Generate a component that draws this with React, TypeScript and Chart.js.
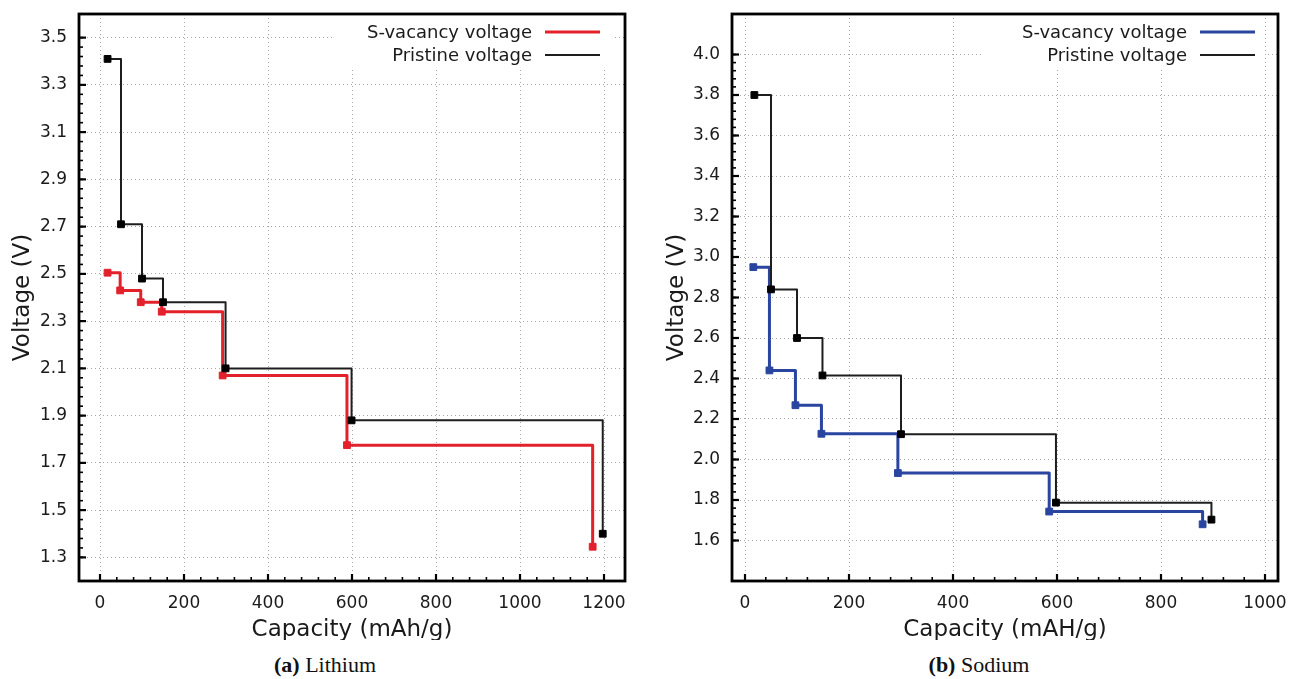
import React, { useEffect, useRef } from "react";
import { Chart, registerables } from "chart.js";

Chart.register(...registerables);

// ---- data ----
const liPristineCapacity = [18, 50, 100, 150, 299, 599, 1197];
const liPristineVoltage = [3.41, 2.71, 2.48, 2.38, 2.1, 1.88, 1.4];
const liVacancyCapacity = [18, 48, 97, 147, 292, 588, 1173];
const liVacancyVoltage = [2.505, 2.43, 2.38, 2.34, 2.07, 1.775, 1.345];

const naPristineCapacity = [18, 50, 100, 149, 300, 598, 897];
const naPristineVoltage = [3.8, 2.84, 2.6, 2.415, 2.125, 1.787, 1.703];
const naVacancyCapacity = [16, 47, 97, 147, 294, 585, 880];
const naVacancyVoltage = [2.95, 2.44, 2.268, 2.127, 1.933, 1.743, 1.68];

const liXTicks = [0, 200, 400, 600, 800, 1000, 1200];
const liYTicks = [1.3, 1.5, 1.7, 1.9, 2.1, 2.3, 2.5, 2.7, 2.9, 3.1, 3.3, 3.5];
const naXTicks = [0, 200, 400, 600, 800, 1000];
const naYTicks = [1.6, 1.8, 2.0, 2.2, 2.4, 2.6, 2.8, 3.0, 3.2, 3.4, 3.6, 3.8, 4.0];

const legendLabels = ["S-vacancy voltage", "Pristine voltage"];

const RED = "#e3212b";
const BLUE = "#2a45a0";
const BLACK = "#1e1e1e";
const TEXT = "#1a1a1a";
const FONT = "'DejaVu Sans', sans-serif";

type Panel = {
  vacCap: number[];
  vacVolt: number[];
  priCap: number[];
  priVolt: number[];
  xTicks: number[];
  yTicks: number[];
  xMin: number;
  xMax: number;
  yMin: number;
  yMax: number;
  xMinor: number;
  yMinor: number;
  vacColor: string;
  xTitle: string;
  padLeft: number;
  padRight: number;
  padTop: number;
  bottom: number;
  yTitleX: number;
  legend: { textRight: number; lineStart: number; lineEnd: number; boxLeft: number; boxRight: number; boxBottom: number };
};

const W = 645;
const H = 640;

function makePlugin(p: Panel) {
  return {
    id: "gnuplotDecor",
    beforeDatasetsDraw(chart: any) {
      const ctx = chart.ctx;
      const a = chart.chartArea;
      ctx.save();
      ctx.fillStyle = "#ffffff";
      ctx.fillRect(p.legend.boxLeft, a.top, p.legend.boxRight - p.legend.boxLeft, p.legend.boxBottom - a.top);
      ctx.restore();
    },
    afterDraw(chart: any) {
      const ctx = chart.ctx;
      const a = chart.chartArea;
      const xs = chart.scales.x;
      const ys = chart.scales.y;
      ctx.save();
      // minor ticks
      ctx.strokeStyle = "#000";
      ctx.lineWidth = 1.6;
      const x0 = p.xTicks[0];
      const x1 = p.xTicks[p.xTicks.length - 1];
      const nx = Math.round((x1 - x0) / p.xMinor);
      for (let i = 0; i <= nx; i++) {
        const v = x0 + i * p.xMinor;
        const px = xs.getPixelForValue(v);
        ctx.beginPath();
        ctx.moveTo(px, a.bottom);
        ctx.lineTo(px, a.bottom - 4);
        ctx.stroke();
      }
      const y0 = p.yTicks[0];
      const y1 = p.yTicks[p.yTicks.length - 1];
      const ny = Math.round((y1 - y0) / p.yMinor);
      for (let i = 0; i <= ny; i++) {
        const v = y0 + i * p.yMinor;
        const py = ys.getPixelForValue(v);
        ctx.beginPath();
        ctx.moveTo(a.left, py);
        ctx.lineTo(a.left + 4, py);
        ctx.stroke();
      }
      // major ticks
      ctx.lineWidth = 2.2;
      p.xTicks.forEach((v) => {
        const px = xs.getPixelForValue(v);
        ctx.beginPath();
        ctx.moveTo(px, a.bottom);
        ctx.lineTo(px, a.bottom - 7);
        ctx.stroke();
      });
      p.yTicks.forEach((v) => {
        const py = ys.getPixelForValue(v);
        ctx.beginPath();
        ctx.moveTo(a.left, py);
        ctx.lineTo(a.left + 7, py);
        ctx.stroke();
      });
      // frame
      ctx.lineWidth = 2.8;
      ctx.strokeStyle = "#000";
      ctx.strokeRect(a.left, a.top, a.right - a.left, a.bottom - a.top);

      // legend
      ctx.font = `18px ${FONT}`;
      ctx.fillStyle = TEXT;
      ctx.textAlign = "right";
      ctx.textBaseline = "middle";
      const rows = [33, 56];
      const colors = [p.vacColor, BLACK];
      const widths = [3, 2];
      legendLabels.forEach((lab, i) => {
        ctx.fillText(lab, p.legend.textRight, rows[i]);
        ctx.strokeStyle = colors[i];
        ctx.lineWidth = widths[i];
        ctx.beginPath();
        ctx.moveTo(p.legend.lineStart, rows[i] - 1);
        ctx.lineTo(p.legend.lineEnd, rows[i] - 1);
        ctx.stroke();
      });

      // axis titles
      ctx.font = `23px ${FONT}`;
      ctx.fillStyle = TEXT;
      ctx.textAlign = "center";
      ctx.textBaseline = "middle";
      ctx.fillText(p.xTitle, (a.left + a.right) / 2, 630);
      ctx.save();
      ctx.translate(p.yTitleX, (a.top + a.bottom) / 2);
      ctx.rotate(-Math.PI / 2);
      ctx.fillText("Voltage (V)", 0, 0);
      ctx.restore();
      ctx.restore();
    },
  };
}

function buildConfig(p: Panel): any {
  const toPts = (xs: number[], ys: number[]) => xs.map((x, i) => ({ x, y: ys[i] }));
  return {
    type: "line",
    data: {
      datasets: [
        {
          label: legendLabels[1],
          data: toPts(p.priCap, p.priVolt),
          borderColor: BLACK,
          borderWidth: 2,
          stepped: "before",
          borderJoinStyle: "round",
          pointStyle: "rect",
          pointRadius: 4.8,
          pointBorderWidth: 1,
          pointBackgroundColor: "#000",
          pointBorderColor: "#000",
          fill: false,
        },
        {
          label: legendLabels[0],
          data: toPts(p.vacCap, p.vacVolt),
          borderColor: p.vacColor,
          borderWidth: 3,
          stepped: "before",
          borderJoinStyle: "round",
          pointStyle: "rect",
          pointRadius: 4.8,
          pointBorderWidth: 1,
          pointBackgroundColor: p.vacColor,
          pointBorderColor: p.vacColor,
          fill: false,
        },
      ],
    },
    options: {
      animation: false,
      responsive: false,
      devicePixelRatio: 1,
      events: [],
      layout: { padding: { left: 0, right: p.padRight, top: p.padTop, bottom: 0 } },
      plugins: { legend: { display: false }, tooltip: { enabled: false }, title: { display: false } },
      scales: {
        x: {
          type: "linear",
          min: p.xMin,
          max: p.xMax,
          afterBuildTicks: (s: any) => {
            s.ticks = p.xTicks.map((v) => ({ value: v }));
          },
          afterFit: (s: any) => {
            s.height = H - p.bottom;
            s.paddingLeft = 0;
            s.paddingRight = 0;
          },
          grid: { color: "rgba(150,150,150,0.85)", lineWidth: 1, drawTicks: false },
          border: { display: false, dash: [1, 3] },
          ticks: {
            padding: 12,
            color: TEXT,
            font: { family: FONT, size: 17 },
            maxRotation: 0,
            autoSkip: false,
            callback: (v: any) => String(v),
          },
        },
        y: {
          type: "linear",
          min: p.yMin,
          max: p.yMax,
          afterBuildTicks: (s: any) => {
            s.ticks = p.yTicks.map((v) => ({ value: v }));
          },
          afterFit: (s: any) => {
            s.width = p.padLeft;
            s.paddingTop = 0;
            s.paddingBottom = 0;
          },
          grid: { color: "rgba(150,150,150,0.85)", lineWidth: 1, drawTicks: false },
          border: { display: false, dash: [1, 3] },
          ticks: {
            padding: 12,
            color: TEXT,
            font: { family: FONT, size: 17 },
            autoSkip: false,
            callback: (v: any) => Number(v).toFixed(1),
          },
        },
      },
    },
    plugins: [makePlugin(p)],
  };
}

const leftPanel: Panel = {
  vacCap: liVacancyCapacity,
  vacVolt: liVacancyVoltage,
  priCap: liPristineCapacity,
  priVolt: liPristineVoltage,
  xTicks: liXTicks,
  yTicks: liYTicks,
  xMin: -50,
  xMax: 1250,
  yMin: 1.2,
  yMax: 3.6,
  xMinor: 40,
  yMinor: 0.04,
  vacColor: RED,
  xTitle: "Capacity (mAh/g)",
  padLeft: 79,
  padRight: 20,
  padTop: 14,
  bottom: 581,
  yTitleX: 23,
  legend: { textRight: 532, lineStart: 545, lineEnd: 600, boxLeft: 332, boxRight: 612, boxBottom: 67 },
};

const rightPanel: Panel = {
  vacCap: naVacancyCapacity,
  vacVolt: naVacancyVoltage,
  priCap: naPristineCapacity,
  priVolt: naPristineVoltage,
  xTicks: naXTicks,
  yTicks: naYTicks,
  xMin: -25,
  xMax: 1025,
  yMin: 1.4,
  yMax: 4.2,
  xMinor: 40,
  yMinor: 0.04,
  vacColor: BLUE,
  xTitle: "Capacity (mAH/g)",
  padLeft: 87,
  padRight: 12,
  padTop: 14,
  bottom: 581,
  yTitleX: 32,
  legend: { textRight: 542, lineStart: 555, lineEnd: 610, boxLeft: 339, boxRight: 620, boxBottom: 67 },
};

function PanelChart({ panel, left }: { panel: Panel; left: number }) {
  const ref = useRef<HTMLCanvasElement | null>(null);
  useEffect(() => {
    if (!ref.current) return;
    const chart = new Chart(ref.current, buildConfig(panel));
    return () => chart.destroy();
  }, [panel]);
  return (
    <canvas
      ref={ref}
      width={W}
      height={H}
      style={{ position: "absolute", left, top: 0, width: W, height: H }}
    />
  );
}

function Caption({ center, tag, name }: { center: number; tag: string; name: string }) {
  return (
    <div
      style={{
        position: "absolute",
        left: center - 150,
        width: 300,
        top: 652,
        textAlign: "center",
        fontFamily: "'Liberation Serif', serif",
        fontSize: 22,
        lineHeight: "26px",
        color: "#111",
      }}
    >
      <b>{tag}</b> {name}
    </div>
  );
}

export default function App() {
  return (
    <div style={{ position: "absolute", left: 0, top: 0, width: 1290, height: 679, background: "#fff", overflow: "hidden" }}>
      <PanelChart panel={leftPanel} left={0} />
      <PanelChart panel={rightPanel} left={645} />
      <Caption center={325} tag="(a)" name="Lithium" />
      <Caption center={979} tag="(b)" name="Sodium" />
    </div>
  );
}
